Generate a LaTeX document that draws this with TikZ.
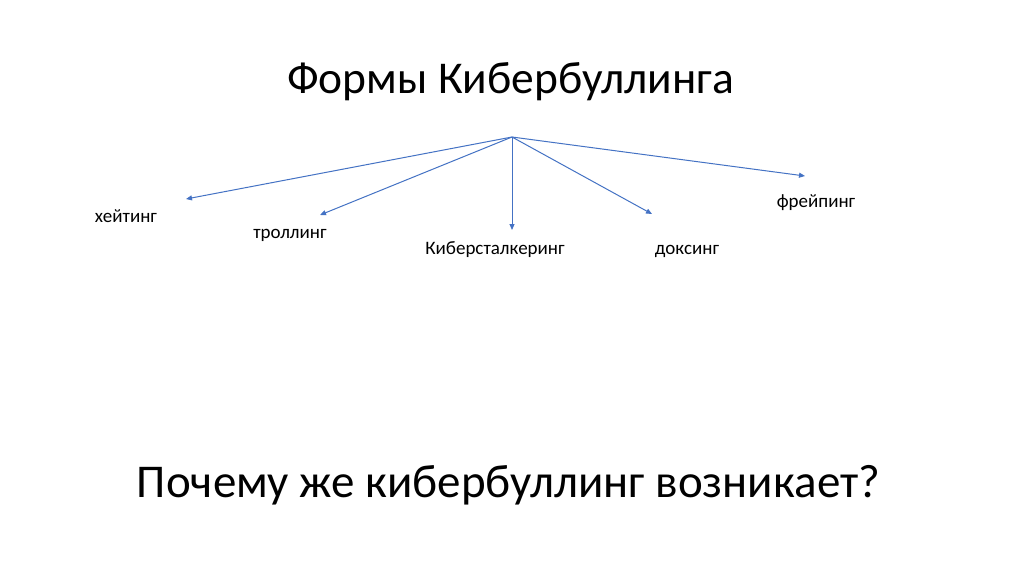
\documentclass[tikz,border=0pt]{standalone}
\usepackage{fontspec}
\setmainfont{Carlito}
\usetikzlibrary{arrows.meta}
\definecolor{officeblue}{HTML}{4472C4}
\tikzset{
  lbl/.style={inner sep=0pt, font=\fontsize{19}{22}\selectfont},
  conn/.style={draw=officeblue, line width=1pt, -{Triangle[length=6pt,width=5pt]}},
}
\begin{document}
\begin{tikzpicture}[x=1pt,y=-1pt]
\useasboundingbox[fill=white] (0,0) rectangle (1024,574);
\node[inner sep=0pt, font=\fontsize{45.5}{52}\selectfont, anchor=base] (title) at (510.5,93) {Формы Кибербуллинга};
\coordinate (hub) at (512,137);
\coordinate (e1) at (186,199);
\coordinate (e2) at (320,215);
\coordinate (e3) at (512,230);
\coordinate (e4) at (652,214);
\coordinate (e5) at (805,176);
\draw[conn] (hub) -- (e1);
\draw[conn] (hub) -- (e2);
\draw[conn] (hub) -- (e3);
\draw[conn] (hub) -- (e4);
\draw[conn] (hub) -- (e5);
\node[lbl, anchor=base] (h) at (126,222) {хейтинг};
\node[lbl, anchor=base] (t) at (290,238) {троллинг};
\node[lbl, anchor=base] (k) at (495,254) {Киберсталкеринг};
\node[lbl, anchor=base] (d) at (687,254) {доксинг};
\node[lbl, anchor=base] (f) at (816,207) {фрейпинг};
\node[inner sep=0pt, font=\fontsize{47}{56}\selectfont, anchor=base] (q) at (508.5,497) {Почему же кибербуллинг возникает?};
\end{tikzpicture}
\end{document}
